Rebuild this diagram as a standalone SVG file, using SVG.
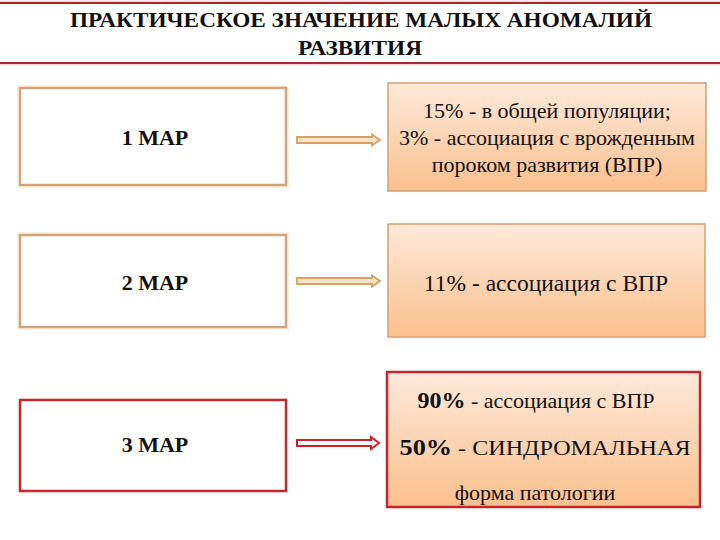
<svg xmlns="http://www.w3.org/2000/svg" width="720" height="540" viewBox="0 0 720 540">
  <style>
    text { fill: #111; }
    .title { font-size: 20px; font-weight: bold; }
    .lbl { font-size: 22px; font-weight: bold; }
    .body { font-size: 22px; }
    .tanbox { fill: #ffffff; stroke: #d2a47a; stroke-width: 2.5; }
    .redbox { fill: #ffffff; stroke: #c8262d; stroke-width: 2.5; }
    .rbox { fill: url(#peach); stroke: #d4a070; stroke-width: 1.5; }
    .rboxred { fill: url(#peach); stroke: #c0262d; stroke-width: 2.5; }
    .arr-tan { fill: #fbe3c6; stroke: #d9a066; stroke-width: 1.8; }
    .arr-red { fill: #ffffff; stroke: #cc1f2a; stroke-width: 2; }
    .glow { fill: none; stroke: #fdf1e4; stroke-width: 6; }
  </style>
  <defs>
    <linearGradient id="peach" x1="0" y1="0" x2="0" y2="1">
      <stop offset="0" stop-color="#fde9da"/>
      <stop offset="1" stop-color="#fac08e"/>
    </linearGradient>
  </defs>
  <rect x="0" y="0" width="720" height="540" fill="#ffffff"/>

  <g id="title">
    <rect x="-2" y="3" width="730" height="60" fill="#ffffff" stroke="#f6d5d5" stroke-width="5"/>
    <rect x="-2" y="3" width="730" height="60" fill="#ffffff" stroke="#9e2f2f" stroke-width="2"/>
    <text font-family="Liberation Serif" class="title" x="361" y="27" text-anchor="middle" textLength="582" lengthAdjust="spacingAndGlyphs">ПРАКТИЧЕСКОЕ ЗНАЧЕНИЕ МАЛЫХ АНОМАЛИЙ</text>
    <text font-family="Liberation Serif" class="title" x="360" y="55" text-anchor="middle" textLength="124" lengthAdjust="spacingAndGlyphs">РАЗВИТИЯ</text>
  </g>

  <g id="node-map1">
    <rect class="glow" x="20" y="88" width="266" height="97"/>
    <rect class="tanbox" x="20" y="88" width="266" height="97"/>
    <text font-family="Liberation Serif" class="lbl" x="155" y="145" text-anchor="middle">1 МАР</text>
  </g>
  <g id="node-res1">
    <rect class="rbox" x="388" y="83" width="318" height="108"/>
    <text font-family="Liberation Serif" class="body" x="547" y="118" text-anchor="middle">15% - в общей популяции;</text>
    <text font-family="Liberation Serif" class="body" x="547" y="145" text-anchor="middle">3% - ассоциация с врожденным</text>
    <text font-family="Liberation Serif" class="body" x="547" y="172" text-anchor="middle">пороком развития (ВПР)</text>
  </g>

  <g id="node-map2">
    <rect class="glow" x="20" y="235" width="266" height="92"/>
    <rect class="tanbox" x="20" y="235" width="266" height="92"/>
    <text font-family="Liberation Serif" class="lbl" x="155" y="290" text-anchor="middle">2 МАР</text>
  </g>
  <g id="node-res2">
    <rect class="rbox" x="388" y="224" width="317" height="113"/>
    <text font-family="Liberation Serif" class="body" x="546" y="291" text-anchor="middle" font-size="23.5" style="font-size:23.5px">11% - ассоциация с ВПР</text>
  </g>

  <g id="node-map3">
    <rect class="redbox" x="20" y="400" width="266" height="91"/>
    <text font-family="Liberation Serif" class="lbl" x="155" y="452" text-anchor="middle">3 МАР</text>
  </g>
  <g id="node-res3">
    <rect class="rboxred" x="387" y="372" width="313" height="135"/>
    <text font-family="Liberation Serif" class="body" x="536" y="408" text-anchor="middle"><tspan font-weight="bold" font-size="24">90%</tspan> - ассоциация с ВПР</text>
    <text font-family="Liberation Serif" class="body" x="545" y="455" text-anchor="middle" textLength="291" lengthAdjust="spacingAndGlyphs"><tspan font-weight="bold" font-size="24">50%</tspan> - СИНДРОМАЛЬНАЯ</text>
    <text font-family="Liberation Serif" class="body" x="535" y="500" text-anchor="middle">форма патологии</text>
  </g>

  <g id="connectors">
    <path class="arr-tan" d="M297,137 L372,137 L372,134.5 L380,140 L372,145.5 L372,143 L297,143 Z"/>
    <path class="arr-tan" d="M297,278 L372,278 L372,275.5 L380,281 L372,286.5 L372,284 L297,284 Z"/>
    <path class="arr-red" d="M297,440 L371,440 L371,437 L379,443 L371,449 L371,446 L297,446 Z"/>
  </g>
</svg>
